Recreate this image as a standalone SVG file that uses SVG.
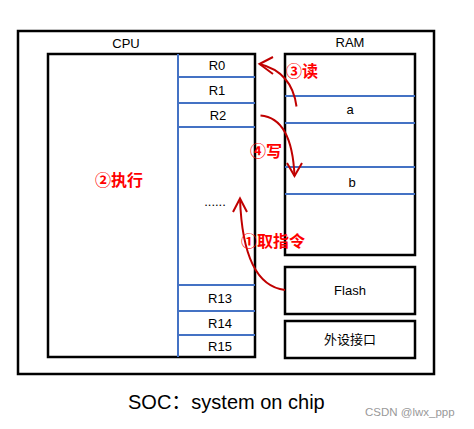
<svg xmlns="http://www.w3.org/2000/svg" width="474" height="429" viewBox="0 0 474 429">
<defs>
<style>
.box{fill:none;stroke:#000;stroke-width:2.5}
.bl{stroke:#4472C4;stroke-width:2}
.t{font-family:"Liberation Sans","Noto Sans CJK SC",sans-serif;font-size:13px;fill:#000;text-anchor:middle}
.r{font-family:"Noto Sans CJK SC","Liberation Sans",sans-serif;font-size:16px;font-weight:bold;fill:#FF0000}
.a{fill:none;stroke:#C00000;stroke-width:2}
</style>
</defs>
<rect width="474" height="429" fill="#fff"/>
<g id="soc">
<rect class="box" x="18" y="31" width="416" height="343"/>
</g>
<g id="cpu">
<rect class="box" x="48" y="54" width="207" height="303"/>
<text class="t" x="126" y="48">CPU</text>
<line class="bl" x1="178" y1="54" x2="178" y2="357"/>
<line class="bl" x1="178" y1="77" x2="255" y2="77"/>
<line class="bl" x1="178" y1="103" x2="255" y2="103"/>
<line class="bl" x1="178" y1="127" x2="255" y2="127"/>
<line class="bl" x1="178" y1="285" x2="255" y2="285"/>
<line class="bl" x1="178" y1="311" x2="255" y2="311"/>
<line class="bl" x1="178" y1="335" x2="255" y2="335"/>
<text class="t" x="217" y="70">R0</text>
<text class="t" x="217" y="95">R1</text>
<text class="t" x="218" y="120">R2</text>
<text class="t" x="215" y="206" font-size="10">......</text>
<text class="t" x="220" y="303">R13</text>
<text class="t" x="220" y="328">R14</text>
<text class="t" x="220" y="351">R15</text>
<text class="r" x="119" y="186" text-anchor="middle">②执行</text>
</g>
<g id="ram">
<rect class="box" x="285" y="54" width="130" height="201"/>
<text class="t" x="350" y="47">RAM</text>
<line class="bl" x1="285" y1="96" x2="415" y2="96"/>
<line class="bl" x1="285" y1="123" x2="415" y2="123"/>
<line class="bl" x1="285" y1="167" x2="415" y2="167"/>
<line class="bl" x1="285" y1="194" x2="415" y2="194"/>
<text class="t" x="350" y="114">a</text>
<text class="t" x="352" y="187">b</text>
</g>
<g id="flash">
<rect class="box" x="285" y="267" width="130" height="47"/>
<text class="t" x="350" y="295">Flash</text>
</g>
<g id="peripheral">
<rect class="box" x="285" y="321" width="130" height="37"/>
<text class="t" x="350" y="344">外设接口</text>
</g>
<g id="connectors">
<path class="a" d="M296.5,106.5 Q292,72 259.5,64"/>
<path class="a" d="M273,57 L259.5,64 L273,74"/>
<path class="a" d="M260.5,115.5 Q292,118 294.5,176"/>
<path class="a" d="M287,163 L294.5,176 L302,163"/>
<path class="a" d="M285,290 Q243,285 240,198.5"/>
<path class="a" d="M233,212 L240,198.5 L247,212"/>
<text class="r" x="286" y="77">③读</text>
<text class="r" x="250" y="157">④写</text>
<text class="r" x="241" y="247">①取指令</text>
</g>
<text x="128" y="409" font-family="Liberation Sans,'Noto Sans CJK SC',sans-serif" font-size="20" fill="#000">SOC：system on chip</text>
<text x="365" y="416" font-family="Liberation Sans,sans-serif" font-size="11.5" fill="#999">CSDN @lwx_ppp</text>
</svg>
